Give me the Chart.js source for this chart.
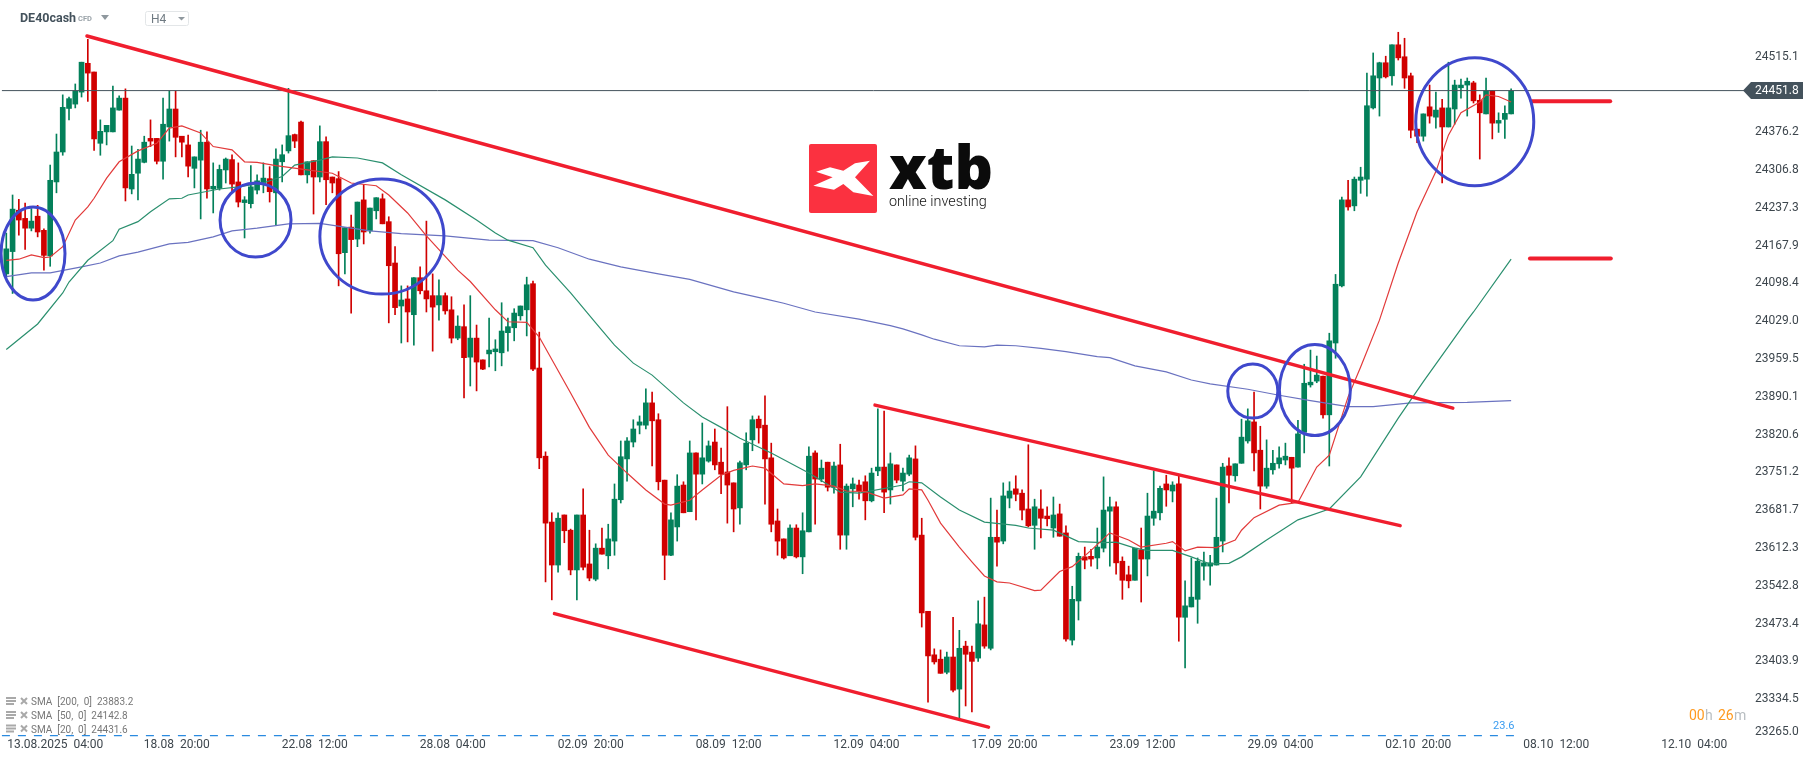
<!DOCTYPE html>
<html><head><meta charset="utf-8">
<style>html,body{margin:0;padding:0;background:#fff;overflow:hidden}canvas{display:block}</style>
<script src="https://cdn.jsdelivr.net/npm/chart.js@4"></script>
</head><body><canvas id="c" width="1815" height="761"></canvas>
<script>
const opens=[24116,24157,24233,24218,24200,24222,24196,24149,24285,24340,24420,24428,24450,24503,24487,24356,24377,24377,24417,24439,24272,24301,24321,24365,24365,24323,24386,24419,24369,24353,24310,24325,24358,24272,24273,24307,24326,24285,24247,24245,24270,24281,24291,24265,24322,24342,24372,24395,24298,24324,24294,24359,24294,24291,24155,24202,24180,24252,24195,24232,24254,24212,24136,24057,24070,24041,24109,24085,24076,24059,24076,24050,23998,24019,23963,23998,23958,23969,23973,23971,24008,24017,24039,24050,24098,23943,23781,23660,23581,23673,23645,23572,23673,23583,23555,23612,23598,23625,23701,23776,23807,23838,23838,23879,23848,23737,23599,23651,23728,23679,23787,23748,23772,23807,23770,23752,23732,23686,23765,23811,23849,23838,23778,23662,23629,23598,23649,23596,23642,23787,23739,23770,23724,23765,23636,23721,23728,23734,23699,23754,23761,23719,23765,23735,23748,23776,23636,23496,23416,23408,23384,23412,23353,23432,23421,23410,23471,23428,23632,23625,23704,23721,23713,23684,23654,23684,23671,23649,23675,23640,23443,23515,23596,23597,23594,23612,23680,23688,23588,23563,23553,23609,23592,23667,23677,23730,23717,23730,23485,23504,23518,23579,23579,23581,23625,23763,23745,23768,23809,23844,23792,23726,23756,23767,23774,23779,23761,23825,23912,23919,23928,23857,23989,24094,24252,24241,24288,24290,24421,24476,24504,24480,24537,24515,24480,24382,24369,24423,24404,24421,24386,24419,24458,24463,24467,24435,24410,24452,24393,24400,24410];
const highs=[24191,24261,24253,24246,24236,24242,24199,24316,24373,24445,24441,24465,24505,24547,24487,24399,24389,24461,24443,24456,24351,24345,24369,24399,24365,24439,24452,24452,24369,24371,24331,24380,24377,24320,24316,24329,24335,24320,24258,24315,24298,24320,24313,24346,24353,24457,24373,24397,24322,24324,24388,24368,24294,24304,24201,24224,24248,24280,24237,24256,24263,24221,24166,24094,24094,24109,24129,24213,24116,24105,24081,24074,24039,24059,24076,24022,23958,24035,23995,24063,24035,24052,24057,24110,24103,24009,23789,23677,23677,23673,23647,23673,23721,23645,23620,23649,23656,23730,23809,23815,23848,23855,23905,23899,23859,23737,23677,23747,23734,23809,23787,23842,23809,23831,23796,23872,23732,23772,23824,23855,23855,23892,23805,23684,23629,23655,23655,23677,23798,23791,23774,23770,23770,23803,23730,23741,23737,23745,23759,23868,23864,23787,23765,23759,23783,23800,23667,23496,23427,23425,23421,23485,23461,23441,23432,23515,23522,23704,23682,23732,23734,23745,23719,23802,23702,23719,23688,23706,23693,23653,23542,23603,23614,23610,23649,23743,23706,23697,23596,23579,23612,23649,23713,23754,23726,23746,23734,23745,23552,23594,23594,23605,23599,23704,23768,23778,23767,23849,23868,23899,23836,23811,23792,23798,23805,23779,23847,23950,23976,23965,23928,24007,24115,24257,24288,24294,24312,24485,24522,24505,24516,24537,24560,24549,24485,24382,24410,24463,24450,24437,24505,24472,24474,24476,24470,24445,24476,24452,24412,24425,24456];
const lows=[24111,24080,24187,24161,24195,24184,24123,24130,24265,24334,24399,24421,24441,24433,24343,24334,24353,24377,24417,24250,24263,24252,24320,24350,24318,24290,24360,24331,24331,24294,24274,24217,24255,24228,24270,24283,24267,24239,24182,24237,24263,24265,24248,24206,24285,24338,24348,24298,24283,24226,24285,24243,24265,24094,24116,24044,24166,24171,24191,24217,24208,24026,24041,23989,23991,23985,24079,24046,23974,24031,24042,23989,23995,23888,23910,23901,23940,23945,23938,23947,23974,23993,24031,24002,23938,23758,23550,23517,23568,23622,23563,23517,23572,23552,23552,23601,23574,23599,23695,23735,23798,23822,23831,23763,23719,23554,23598,23625,23677,23679,23664,23730,23770,23756,23712,23658,23642,23656,23756,23791,23805,23693,23642,23599,23592,23598,23594,23565,23642,23656,23734,23717,23713,23610,23610,23688,23702,23664,23697,23745,23677,23693,23732,23717,23745,23627,23467,23329,23399,23382,23381,23348,23296,23322,23311,23404,23428,23425,23579,23620,23686,23699,23664,23651,23610,23631,23653,23632,23634,23441,23434,23480,23574,23579,23574,23605,23579,23564,23518,23539,23553,23513,23561,23654,23664,23689,23697,23441,23392,23504,23474,23553,23544,23581,23605,23695,23735,23768,23805,23754,23684,23722,23748,23759,23765,23695,23761,23787,23908,23916,23851,23763,23961,24092,24233,24232,24264,24259,24419,24406,24476,24463,24509,24457,24366,24357,24360,24393,24384,24283,24386,24391,24439,24406,24430,24327,24410,24364,24376,24365,24410];
const closes=[24162,24235,24215,24200,24213,24193,24150,24288,24340,24422,24438,24452,24505,24485,24364,24378,24389,24421,24439,24274,24299,24327,24358,24360,24323,24391,24419,24367,24358,24314,24331,24358,24272,24277,24308,24327,24281,24248,24252,24276,24287,24292,24267,24327,24335,24370,24360,24298,24322,24294,24359,24289,24283,24153,24201,24179,24248,24193,24237,24256,24208,24131,24054,24068,24046,24109,24085,24070,24055,24076,24048,23998,24020,23962,23998,23954,23941,23976,23978,24011,24019,24044,24057,24096,23941,23778,23658,23581,23667,23644,23572,23673,23577,23557,23612,23601,23629,23702,23780,23809,23831,23844,23879,23846,23734,23599,23664,23726,23677,23787,23748,23778,23800,23765,23748,23728,23684,23769,23805,23848,23833,23776,23656,23625,23594,23649,23596,23644,23781,23739,23759,23724,23763,23636,23726,23730,23717,23699,23750,23761,23715,23767,23737,23750,23778,23632,23493,23414,23403,23382,23412,23351,23428,23417,23404,23473,23432,23632,23623,23708,23717,23711,23682,23653,23688,23667,23666,23673,23634,23445,23518,23597,23590,23592,23614,23682,23688,23585,23553,23552,23612,23592,23671,23680,23722,23719,23728,23485,23506,23522,23588,23585,23585,23632,23761,23746,23767,23816,23846,23787,23726,23759,23768,23778,23781,23759,23822,23915,23917,23930,23857,23993,24097,24252,24239,24290,24294,24425,24480,24504,24478,24537,24513,24476,24380,24369,24410,24406,24417,24386,24421,24463,24463,24470,24434,24412,24452,24393,24398,24411,24452];

const sma20Index=[0,2,4,6,7,9,11,13,14,16,18,21,24,26,28,31,33,36,38,40,43,48,52,55,59,61,64,67,72,74,78,80,83,85,90,93,96,99,102,105,106,109,111,114,116,119,121,124,127,129,132,134,137,140,143,144,146,147,149,152,154,156,158,160,164,165,168,170,173,176,179,181,185,186,188,190,193,196,197,199,203,206,209,211,214,216,219,222,225,228,230,232,235,236,238,240];
const sma20Values=[24141,24143,24151,24146,24147,24166,24215,24239,24255,24292,24322,24342,24356,24384,24388,24375,24350,24344,24322,24321,24315,24307,24301,24283,24278,24261,24228,24186,24123,24102,24050,24028,24027,24000,23897,23834,23783,23750,23719,23693,23691,23700,23719,23746,23755,23763,23759,23730,23727,23730,23726,23717,23716,23704,23710,23721,23719,23700,23658,23614,23587,23561,23550,23548,23534,23535,23569,23578,23608,23640,23627,23614,23621,23624,23607,23614,23613,23627,23645,23668,23691,23696,23761,23783,23890,23945,24031,24136,24230,24304,24371,24412,24432,24445,24442,24432];
const sma50Index=[0,5,9,10,13,17,18,21,23,26,28,29,34,37,41,44,46,50,52,56,60,63,70,75,78,80,84,86,90,94,97,100,103,108,111,114,117,122,128,133,136,143,144,146,149,152,156,161,163,167,171,175,177,180,182,186,189,192,195,197,201,206,211,216,222,226,233,234,240];
const sma50Values=[23977,24024,24081,24101,24141,24177,24198,24212,24230,24254,24255,24261,24272,24276,24283,24295,24316,24325,24331,24329,24320,24298,24252,24215,24191,24178,24164,24132,24081,24026,23985,23952,23930,23879,23853,23834,23814,23787,23750,23715,23713,23728,23734,23732,23706,23682,23660,23654,23649,23645,23624,23622,23623,23612,23608,23608,23596,23583,23584,23596,23627,23664,23684,23743,23851,23918,24031,24046,24143];
const sma200Index=[0,4,7,12,15,18,21,26,29,33,36,40,45,50,54,58,63,70,77,84,88,93,98,104,109,116,121,124,129,136,141,143,146,148,152,156,158,161,165,169,174,176,180,185,189,192,198,203,208,214,218,224,233,240];
const sma200Values=[24111,24118,24118,24129,24136,24149,24156,24171,24174,24184,24195,24200,24208,24209,24202,24195,24190,24186,24178,24177,24164,24143,24129,24116,24106,24083,24070,24062,24046,24033,24021,24015,24004,23996,23984,23982,23985,23984,23979,23973,23964,23962,23947,23936,23921,23914,23904,23893,23883,23872,23872,23879,23880,23883];

const yTickLabels=["24515.1","24376.2","24306.8","24237.3","24167.9","24098.4","24029.0","23959.5","23890.1","23820.6","23751.2","23681.7","23612.3","23542.8","23473.4","23403.9","23334.5","23265.0"];
const yTickPositions=[24515.1,24376.2,24306.8,24237.3,24167.9,24098.4,24029.0,23959.5,23890.1,23820.6,23751.2,23681.7,23612.3,23542.8,23473.4,23403.9,23334.5,23274.7];
const xTickLabels=["13.08.2025  04:00","18.08  20:00","22.08  12:00","28.08  04:00","02.09  20:00","08.09  12:00","12.09  04:00","17.09  20:00","23.09  12:00","29.09  04:00","02.10  20:00","08.10  12:00","12.10  04:00"];
const xTickPositions=[7.8,27.2,49.2,71.2,93.2,115.2,137.2,159.2,181.2,203.2,225.2,247.2,269.2];

const lastPrice=24451.8;
const lastPriceLine=24452.8;
const fibLevel=23267.5;
const fibLabel="23.6";
const legendRows=["SMA  [200,  0]  23883.2","SMA  [50,  0]  24142.8","SMA  [20,  0]  24431.6"];

const trendA={x:[12.87,230.7],y:[24553.1,23869.4]};
const trendB={x:[138.55,222.3],y:[23874.9,23653.4]};
const trendC={x:[87.43,156.65],y:[23491.7,23283.1]};
const levelA={x:[243.3,255.8],y:[24433.1,24433.1]};
const levelB={x:[243,255.9],y:[24144.5,24144.5]};
// circles: centre index, centre price, radius in candles, radius in price
const circleX=[4.26,39.75,59.9,198.8,208.7,234.2];
const circleY=[24153.4,24215,24184.6,23900.6,23902.5,24395.6];
const circleRX=[5.10,5.66,9.89,3.99,5.66,9.41];
const circleRY=[85.5,68,105.7,49.6,83.6,117.6];

const UP="#03805a",DOWN="#d00000",TREND="#f01e2e",CIRCLE="#3f48cc",SLATE="#44525c";
const isUp=opens.map((o,i)=>closes[i]>=o);
const barColors=isUp.map(u=>u?UP:DOWN);
const pairs=(xs,ys)=>xs.map((x,i)=>({x,y:ys[i]}));
const lineDs=(data,color,width,order,extra)=>Object.assign({type:"line",data,borderColor:color,borderWidth:width,pointRadius:0,tension:0,order,fill:false,clip:false},extra||{});

const overlay={id:"overlay",afterDatasetsDraw(chart){
  const g=chart.ctx,xs=chart.scales.x,ys=chart.scales.y;
  g.save();
  g.strokeStyle=CIRCLE;g.lineWidth=3;
  circleX.forEach((cx,i)=>{
    const px=xs.getPixelForValue(cx),py=ys.getPixelForValue(circleY[i]);
    const rx=xs.getPixelForValue(cx+circleRX[i])-px,ry=py-ys.getPixelForValue(circleY[i]+circleRY[i]);
    g.beginPath();g.ellipse(px,py,rx,ry,0,0,Math.PI*2);g.stroke();
  });
  const ty=90.6;
  g.fillStyle=SLATE;g.beginPath();g.moveTo(1743,ty);g.lineTo(1751,ty-8.5);g.lineTo(1803,ty-8.5);g.lineTo(1803,ty+8.5);g.lineTo(1751,ty+8.5);g.closePath();g.fill();
  g.fillStyle="#fff";g.font="12px Roboto";g.textAlign="left";g.textBaseline="middle";g.fillText(lastPrice.toFixed(1),1755,ty+0.5);
  g.fillStyle=SLATE;g.font="bold 12.5px Roboto";g.fillText("DE40cash",20,18.5);
  g.fillStyle="#9aa3a9";g.font="bold 7.5px Roboto";g.fillText("CFD",78,19.5);
  g.fillStyle="#8f989e";g.beginPath();g.moveTo(101,15);g.lineTo(109,15);g.lineTo(105,20);g.closePath();g.fill();
  g.strokeStyle="#e3e6e8";g.lineWidth=1;g.beginPath();g.roundRect(145.5,11.5,43,14,2);g.stroke();
  g.fillStyle="#6f7a82";g.font="12px Roboto";g.fillText("H4",151,19.5);
  g.fillStyle="#8f989e";g.beginPath();g.moveTo(178,17);g.lineTo(185,17);g.lineTo(181.5,20.5);g.closePath();g.fill();
  g.fillStyle="#fb3140";g.beginPath();g.roundRect(809,144,68,69,2);g.fill();
  const mark=[[108,155],[150,142],[190,152],[225,130],[270,122],[225,172],[280,228],[220,217],[190,192],[162,209],[100,197],[158,172]];
  g.fillStyle="#fff";g.beginPath();mark.forEach((p,i)=>{const a=780+p[0]/3,b=120+p[1]/3;i?g.lineTo(a,b):g.moveTo(a,b);});g.closePath();g.fill();
  g.fillStyle="#0b0b0b";g.font="800 60px 'Open Sans'";g.textBaseline="alphabetic";g.fillText("xtb",889,189);
  g.font="300 14.4px Roboto";g.fillStyle="#111";g.textBaseline="middle";g.fillText("online investing",889,202);
  g.font="10px Roboto";
  legendRows.forEach((t,i)=>{
    const y=[702,716,729.5][i];
    g.fillStyle="#a9a9a9";g.fillRect(6,y-5,10,2);g.fillRect(6,y-2,10,2);g.fillRect(6,y+1,8,2);
    g.strokeStyle="#a9a9a9";g.lineWidth=2;g.beginPath();g.moveTo(21,y-4);g.lineTo(27,y+2);g.moveTo(27,y-4);g.lineTo(21,y+2);g.stroke();
    g.fillStyle="#777";g.fillText(t,31,y+0.5);
  });
  g.fillStyle="#3a9cf0";g.font="11px Roboto";g.textAlign="right";g.fillText(fibLabel,1514.5,726.5);
  g.font="14px Roboto";g.textAlign="left";
  g.fillStyle="#ff9a1f";g.fillText("00",1689,716.5);g.fillText("26",1718,716.5);
  g.fillStyle="#b8bdc1";g.fillText("h",1705,716.5);g.fillText("m",1734,716.5);
  g.restore();
}};

const tickColor="#3d464d";
new Chart(document.getElementById("c"),{
  data:{datasets:[
    {type:"bar",data:opens.map((o,i)=>({x:i,y:[lows[i],highs[i]]})),backgroundColor:barColors,barThickness:1,grouped:false,order:20},
    {type:"bar",data:opens.map((o,i)=>({x:i,y:[o,closes[i]]})),backgroundColor:barColors,barThickness:5,grouped:false,order:19},
    lineDs(pairs(sma200Index,sma200Values),"#6a72c0",1.2,10),
    lineDs(pairs(sma50Index,sma50Values),"#2a8f6e",1.2,9),
    lineDs(pairs(sma20Index,sma20Values),"#e23a3a",1.2,8),
    lineDs([{x:-0.7,y:lastPriceLine},{x:277.3,y:lastPriceLine}],SLATE,1,7),
    lineDs([{x:-0.7,y:fibLevel},{x:240.6,y:fibLevel}],"#2a8ae0",1.2,6,{borderDash:[8,8]}),
    lineDs(pairs(trendA.x,trendA.y),TREND,3.5,4,{borderCapStyle:"round"}),
    lineDs(pairs(trendB.x,trendB.y),TREND,3.5,4,{borderCapStyle:"round"}),
    lineDs(pairs(trendC.x,trendC.y),TREND,3.5,4,{borderCapStyle:"round"}),
    lineDs(pairs(levelA.x,levelA.y),TREND,4,4,{borderCapStyle:"round"}),
    lineDs(pairs(levelB.x,levelB.y),TREND,4,4,{borderCapStyle:"round"})
  ]},
  options:{
    responsive:false,animation:false,devicePixelRatio:1,
    layout:{padding:0},
    plugins:{legend:{display:false},tooltip:{enabled:false},title:{display:false}},
    events:[],
    scales:{
      x:{type:"linear",min:-1.005,max:277.3,offset:false,
        grid:{display:false,drawTicks:false},border:{display:false},
        afterBuildTicks:a=>{a.ticks=xTickPositions.map(v=>({value:v}));},
        afterFit:a=>{a.height=24;a.paddingLeft=0;a.paddingRight=0;},
        ticks:{autoSkip:false,maxRotation:0,minRotation:0,padding:1,color:tickColor,font:{family:"Roboto",size:12},callback:(v,i)=>xTickLabels[i]}},
      y:{type:"linear",position:"right",min:23265,max:24619.3,
        grid:{display:false,drawTicks:false},border:{display:false},
        afterBuildTicks:a=>{a.ticks=yTickPositions.map(v=>({value:v}));},
        afterFit:a=>{a.width=70;a.paddingTop=0;a.paddingBottom=0;},
        ticks:{autoSkip:false,padding:10,crossAlign:"near",color:tickColor,font:{family:"Roboto",size:12},callback:(v,i)=>yTickLabels[i]}}
    }
  },
  plugins:[overlay]
});
</script></body></html>
